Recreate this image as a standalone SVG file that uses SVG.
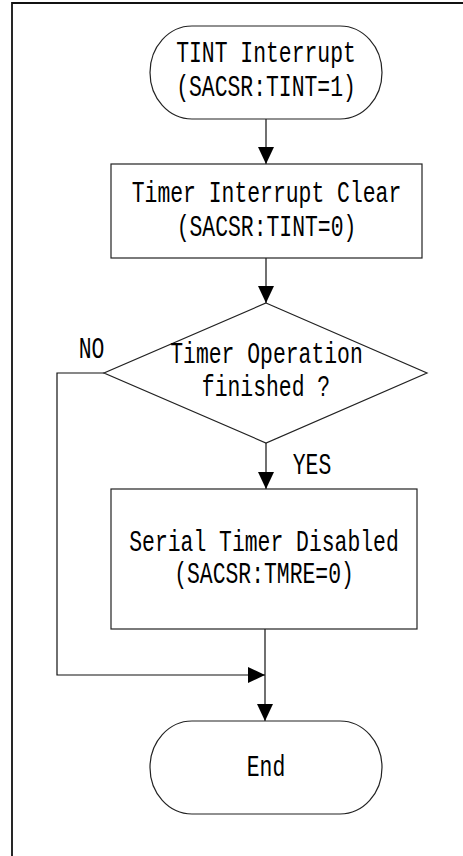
<svg xmlns="http://www.w3.org/2000/svg" width="463" height="856" viewBox="0 0 463 856">
<defs>
<marker id="ah" markerUnits="userSpaceOnUse" markerWidth="17" markerHeight="16" refX="17" refY="8" orient="auto">
<path d="M0,0 L17,8 L0,16 Z" fill="#000"/>
</marker>
<style>
.s{fill:#fff;stroke:#222;stroke-width:1.2}
.c{fill:none;stroke:#111;stroke-width:1.2}
.t{font-family:"Liberation Mono","DejaVu Sans Mono",monospace;font-size:21.4px;fill:#000;text-anchor:middle}
.frame{fill:none;stroke:#111;stroke-width:1.8}
</style>
</defs>
<rect width="463" height="856" fill="#fff"/>
<path class="frame" d="M463,3 H12 V856"/>
<g id="connectors">
<path class="c" d="M266,119 V164" marker-end="url(#ah)"/>
<path class="c" d="M266,258 V303" marker-end="url(#ah)"/>
<path class="c" d="M266,443 V489" marker-end="url(#ah)"/>
<path class="c" d="M104,373 H57 V675 H265" marker-end="url(#ah)"/>
<path class="c" d="M265,629 V721" marker-end="url(#ah)"/>
<g transform="translate(91.5,358) scale(1,1.36)"><text class="t">NO</text></g>
<g transform="translate(312,474) scale(1,1.36)"><text class="t">YES</text></g>
</g>
<g id="start">
<rect class="s" x="150" y="26" width="232" height="93" rx="42" ry="46.5"/>
<g transform="translate(266,62) scale(1,1.36)"><text class="t">TINT Interrupt</text></g>
<g transform="translate(266,96) scale(1,1.36)"><text class="t">(SACSR:TINT=1)</text></g>
</g>
<g id="clear">
<rect class="s" x="111" y="164" width="311" height="94"/>
<g transform="translate(266.5,202) scale(1,1.36)"><text class="t">Timer Interrupt Clear</text></g>
<g transform="translate(266.5,236) scale(1,1.36)"><text class="t">(SACSR:TINT=0)</text></g>
</g>
<g id="decision">
<path class="s" d="M266,303 L427,373 L266,443 L104,373 Z"/>
<g transform="translate(266.5,363) scale(1,1.36)"><text class="t">Timer Operation</text></g>
<g transform="translate(266,396) scale(1,1.36)"><text class="t">finished ?</text></g>
</g>
<g id="disable">
<rect class="s" x="111" y="489" width="306" height="140"/>
<g transform="translate(264,551) scale(1,1.36)"><text class="t">Serial Timer Disabled</text></g>
<g transform="translate(264,583) scale(1,1.36)"><text class="t">(SACSR:TMRE=0)</text></g>
</g>
<g id="end">
<rect class="s" x="150" y="721" width="232" height="93" rx="42" ry="46.5"/>
<g transform="translate(266,776) scale(1,1.36)"><text class="t">End</text></g>
</g>
</svg>
